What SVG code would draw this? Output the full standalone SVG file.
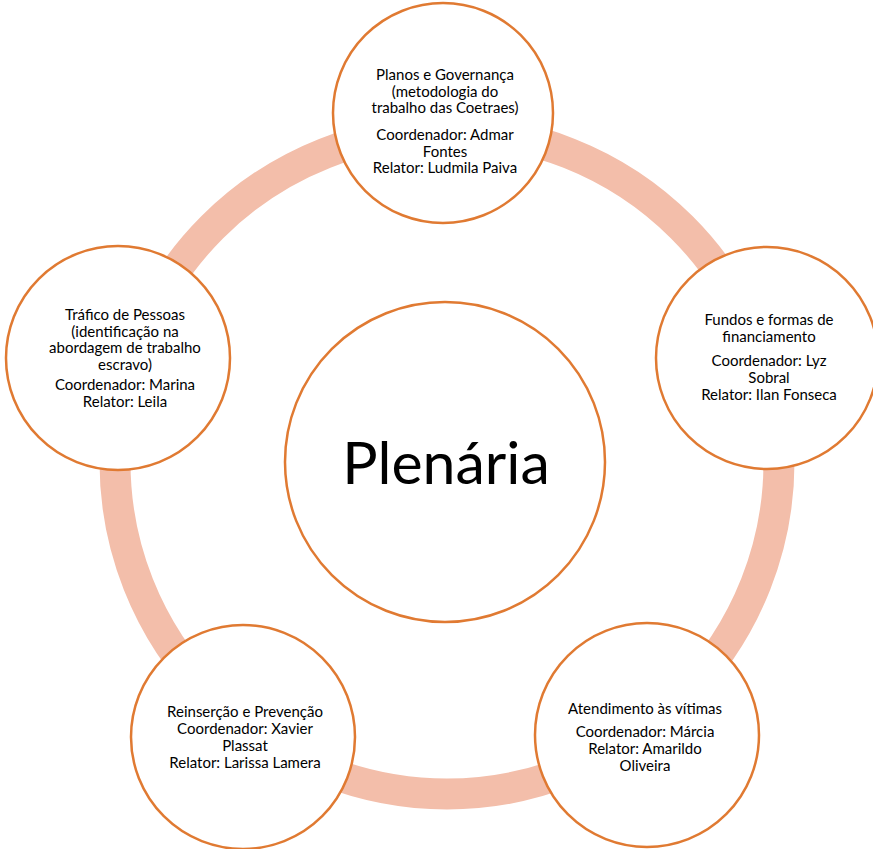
<svg xmlns="http://www.w3.org/2000/svg" width="873" height="849" viewBox="0 0 873 849">
<style>
.ring{fill:none;stroke:#F3BEAA;stroke-width:31}
.node{fill:#FFFFFF;stroke:#E07A32;stroke-width:2.5}
.t{font-family:Lato,"Liberation Sans",sans-serif;font-size:15px;fill:#000;text-anchor:middle}
.big{font-family:Lato,"Liberation Sans",sans-serif;font-size:59px;fill:#000;text-anchor:middle}
</style>
<rect width="873" height="849" fill="#FFFFFF"/>
<g id="connectors">
<circle class="ring" cx="447" cy="462" r="332"/>
</g>
<g id="plenaria">
<circle class="node" cx="445" cy="462" r="160"/>
<text class="big" x="446" y="484">Plenária</text>
</g>
<g id="planos">
<circle class="node" cx="443" cy="113" r="110"/>
<text class="t"><tspan x="445" y="80">Planos e Governança</tspan><tspan x="445" y="96.5">(metodologia do</tspan><tspan x="445" y="113">trabalho das Coetraes)</tspan><tspan x="445" y="140">Coordenador: Admar</tspan><tspan x="445" y="156.5">Fontes</tspan><tspan x="445" y="173">Relator: Ludmila Paiva</tspan></text>
</g>
<g id="fundos">
<circle class="node" cx="767" cy="358" r="111"/>
<text class="t"><tspan x="769" y="325">Fundos e formas de</tspan><tspan x="769" y="341.5">financiamento</tspan><tspan x="769" y="366">Coordenador: Lyz</tspan><tspan x="769" y="383">Sobral</tspan><tspan x="769" y="400">Relator: Ilan Fonseca</tspan></text>
</g>
<g id="atendimento">
<circle class="node" cx="647" cy="735" r="112"/>
<text class="t"><tspan x="645" y="714">Atendimento às vítimas</tspan><tspan x="645" y="737">Coordenador: Márcia</tspan><tspan x="645" y="754">Relator: Amarildo</tspan><tspan x="645" y="771">Oliveira</tspan></text>
</g>
<g id="reinsercao">
<circle class="node" cx="243" cy="737" r="112"/>
<text class="t"><tspan x="245" y="717">Reinserção e Prevenção</tspan><tspan x="245" y="734">Coordenador: Xavier</tspan><tspan x="245" y="751">Plassat</tspan><tspan x="245" y="768">Relator: Larissa Lamera</tspan></text>
</g>
<g id="trafico">
<circle class="node" cx="118" cy="358" r="112"/>
<text class="t"><tspan x="125" y="320">Tráfico de Pessoas</tspan><tspan x="125" y="336.5">(identificação na</tspan><tspan x="125" y="353">abordagem de trabalho</tspan><tspan x="125" y="370">escravo)</tspan><tspan x="125" y="390">Coordenador: Marina</tspan><tspan x="125" y="407">Relator: Leila</tspan></text>
</g>
</svg>
